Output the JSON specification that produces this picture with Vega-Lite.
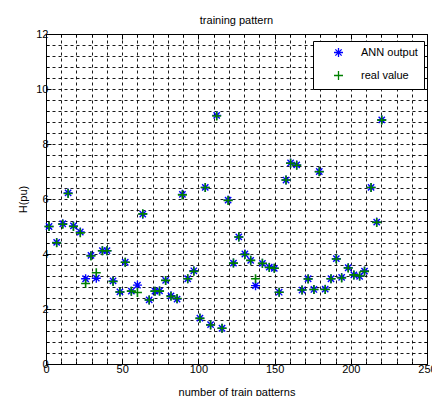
{
  "$schema": "https://vega.github.io/schema/vega-lite/v6.json",
  "width": 381,
  "height": 330,
  "autosize": {"type": "none"},
  "padding": {"left": 46, "top": 34, "right": 5, "bottom": 32},
  "background": "white",
  "title": {"text": "training pattern", "fontSize": 11, "fontWeight": "normal", "font": "Liberation Sans", "color": "black", "offset": 2},
  "config": {
    "view": {"stroke": "black", "strokeWidth": 1},
    "axis": {"labelFont": "Liberation Sans", "titleFont": "Liberation Sans", "labelFontSize": 11, "titleFontSize": 11, "titleFontWeight": "normal", "labelColor": "black", "titleColor": "black", "domain": false, "labelFlush": false, "labelOverlap": false, "tickColor": "black", "tickWidth": 1}
  },
  "data": {"values": [
    {"n": 2, "ann": 5.0, "real": 5.0},
    {"n": 7, "ann": 4.42, "real": 4.41},
    {"n": 11, "ann": 5.1, "real": 5.08},
    {"n": 14.5, "ann": 6.22, "real": 6.2},
    {"n": 18, "ann": 5.02, "real": 5.0},
    {"n": 22.5, "ann": 4.8, "real": 4.77},
    {"n": 26, "ann": 3.1, "real": 2.93},
    {"n": 29.5, "ann": 3.95, "real": 3.93},
    {"n": 33, "ann": 3.12, "real": 3.32},
    {"n": 37, "ann": 4.12, "real": 4.12},
    {"n": 40, "ann": 4.12, "real": 4.12},
    {"n": 44, "ann": 3.02, "real": 3.0},
    {"n": 48.5, "ann": 2.62, "real": 2.62},
    {"n": 52, "ann": 3.7, "real": 3.7},
    {"n": 56, "ann": 2.65, "real": 2.65},
    {"n": 60, "ann": 2.87, "real": 2.6},
    {"n": 63.5, "ann": 5.45, "real": 5.46},
    {"n": 67.7, "ann": 2.33, "real": 2.33},
    {"n": 71.5, "ann": 2.65, "real": 2.65},
    {"n": 74.5, "ann": 2.66, "real": 2.65},
    {"n": 78.5, "ann": 3.04, "real": 3.04},
    {"n": 82, "ann": 2.48, "real": 2.46},
    {"n": 86, "ann": 2.36, "real": 2.38},
    {"n": 89.5, "ann": 6.17, "real": 6.15},
    {"n": 93, "ann": 3.1, "real": 3.1},
    {"n": 97, "ann": 3.39, "real": 3.37},
    {"n": 101, "ann": 1.67, "real": 1.66},
    {"n": 104.5, "ann": 6.42, "real": 6.42},
    {"n": 108, "ann": 1.43, "real": 1.42},
    {"n": 112, "ann": 9.04, "real": 9.02},
    {"n": 115.5, "ann": 1.3, "real": 1.3},
    {"n": 119.5, "ann": 5.96, "real": 5.95},
    {"n": 123, "ann": 3.67, "real": 3.67},
    {"n": 126.5, "ann": 4.62, "real": 4.62},
    {"n": 130.5, "ann": 4.0, "real": 3.98},
    {"n": 134.3, "ann": 3.77, "real": 3.77},
    {"n": 137.5, "ann": 2.85, "real": 3.1},
    {"n": 142, "ann": 3.66, "real": 3.66},
    {"n": 146.5, "ann": 3.52, "real": 3.51},
    {"n": 149.8, "ann": 3.48, "real": 3.48},
    {"n": 153, "ann": 2.61, "real": 2.61},
    {"n": 157.5, "ann": 6.69, "real": 6.69},
    {"n": 160.5, "ann": 7.31, "real": 7.3},
    {"n": 164.5, "ann": 7.24, "real": 7.23},
    {"n": 168, "ann": 2.69, "real": 2.69},
    {"n": 172, "ann": 3.1, "real": 3.09},
    {"n": 175.8, "ann": 2.71, "real": 2.71},
    {"n": 179.3, "ann": 7.0, "real": 6.99},
    {"n": 183.2, "ann": 2.72, "real": 2.71},
    {"n": 187, "ann": 3.1, "real": 3.1},
    {"n": 190.5, "ann": 3.83, "real": 3.82},
    {"n": 194, "ann": 3.15, "real": 3.13},
    {"n": 198.3, "ann": 3.5, "real": 3.49},
    {"n": 202, "ann": 3.24, "real": 3.24},
    {"n": 205.8, "ann": 3.19, "real": 3.2},
    {"n": 209, "ann": 3.38, "real": 3.37},
    {"n": 213.3, "ann": 6.42, "real": 6.42},
    {"n": 217, "ann": 5.16, "real": 5.15},
    {"n": 220.3, "ann": 8.88, "real": 8.87}
  ]},
  "layer": [
    {
      "mark": {"type": "point", "filled": false, "size": 81, "strokeWidth": 1.4, "opacity": 1},
      "encoding": {
        "x": {"field": "n", "type": "quantitative", "scale": {"domain": [0, 250], "nice": false, "zero": false},
          "axis": {"orient": "bottom", "title": "number of train patterns", "titlePadding": 10,
            "values": [0,10,20,30,40,50,60,70,80,90,100,110,120,130,140,150,160,170,180,190,200,210,220,230,240,250],
            "labelExpr": "datum.value % 50 === 0 ? datum.label : ''",
            "labelPadding": 4,
            "grid": true, "gridColor": "black", "gridDash": [3, 3], "gridWidth": 1, "gridOpacity": 0.9,
            "tickSize": {"condition": {"test": "datum.value % 50 === 0", "value": -5}, "value": -3}}},
        "y": {"field": "ann", "type": "quantitative", "scale": {"domain": [0, 12], "nice": false, "zero": false},
          "axis": {"orient": "left", "title": "H(pu)", "titlePadding": 7,
            "values": [0,0.4,0.8,1.2,1.6,2,2.4,2.8,3.2,3.6,4,4.4,4.8,5.2,5.6,6,6.4,6.8,7.2,7.6,8,8.4,8.8,9.2,9.6,10,10.4,10.8,11.2,11.6,12],
            "labelExpr": "datum.value % 2 === 0 ? format(datum.value, 'd') : ''",
            "labelPadding": 3,
            "grid": true, "gridColor": "black", "gridDash": [3, 3], "gridWidth": 1, "gridOpacity": 0.9,
            "tickSize": {"condition": {"test": "datum.value % 2 === 0", "value": -5}, "value": -3}}},
        "color": {"datum": "ANN output", "type": "nominal",
          "scale": {"domain": ["ANN output", "real value"], "range": ["#0000ff", "#008000"]},
          "legend": {"title": null, "orient": "none", "legendX": 267, "legendY": 7, "strokeColor": "black", "fillColor": "white", "padding": 6, "symbolOffset": 14, "labelOffset": 17, "rowPadding": 8, "labelFont": "Liberation Sans", "labelFontSize": 11, "labelColor": "black", "symbolSize": 81, "symbolStrokeWidth": 1.3}},
        "shape": {"datum": "ANN output", "type": "nominal",
          "scale": {"domain": ["ANN output", "real value"], "range": ["M-1,0L1,0M0,-1L0,1M-0.7,-0.7L0.7,0.7M-0.7,0.7L0.7,-0.7", "M-1,0L1,0M0,-1L0,1"]},
          "legend": {"title": null, "orient": "none", "legendX": 267, "legendY": 7, "strokeColor": "black", "fillColor": "white", "padding": 6, "symbolOffset": 14, "labelOffset": 17, "rowPadding": 8, "labelFont": "Liberation Sans", "labelFontSize": 11, "labelColor": "black", "symbolSize": 81, "symbolStrokeWidth": 1.3}}
      }
    },
    {
      "mark": {"type": "point", "filled": false, "size": 81, "strokeWidth": 1.6, "opacity": 1},
      "encoding": {
        "x": {"field": "n", "type": "quantitative",
          "axis": {"orient": "top", "title": null, "labels": false, "grid": false,
            "values": [0,10,20,30,40,50,60,70,80,90,100,110,120,130,140,150,160,170,180,190,200,210,220,230,240,250],
            "tickSize": {"condition": {"test": "datum.value % 50 === 0", "value": -5}, "value": -3}}},
        "y": {"field": "real", "type": "quantitative",
          "axis": {"orient": "right", "title": null, "labels": false, "grid": false,
            "values": [0,0.4,0.8,1.2,1.6,2,2.4,2.8,3.2,3.6,4,4.4,4.8,5.2,5.6,6,6.4,6.8,7.2,7.6,8,8.4,8.8,9.2,9.6,10,10.4,10.8,11.2,11.6,12],
            "tickSize": {"condition": {"test": "datum.value % 2 === 0", "value": -5}, "value": -3}}},
        "color": {"datum": "real value", "type": "nominal"},
        "shape": {"datum": "real value", "type": "nominal"}
      }
    }
  ],
  "resolve": {"axis": {"x": "independent", "y": "independent"}}
}
